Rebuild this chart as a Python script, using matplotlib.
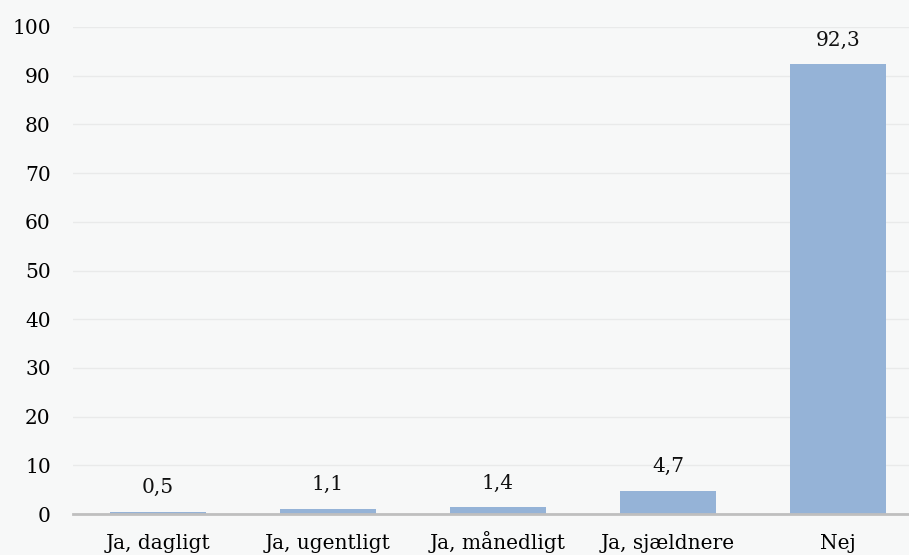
import matplotlib
matplotlib.use("Agg")
import matplotlib.pyplot as plt

categories = ["Ja, dagligt", "Ja, ugentligt", "Ja, månedligt", "Ja, sjældnere", "Nej"]
values = [0.5, 1.1, 1.4, 4.7, 92.3]
labels = ["0,5", "1,1", "1,4", "4,7", "92,3"]
yticks = [0, 10, 20, 30, 40, 50, 60, 70, 80, 90, 100]

bg = "#f7f8f8"
plt.rcParams["font.family"] = ["DejaVu Serif"]
fig = plt.figure(figsize=(9.09, 5.55), dpi=100, facecolor=bg)
ax = fig.add_axes([73/909, 41/555, 1 - 73/909, (514-27)/555])
ax.set_facecolor(bg)

x = list(range(len(categories)))
ax.bar(x, values, width=0.56, color="#95b3d7", zorder=3)
for xi, v, lab in zip(x, values, labels):
    ax.annotate(lab, (xi, v), xytext=(0, 13.5), textcoords="offset points",
                ha="center", va="baseline", fontsize=14.5, color="#111111")

ax.set_ylim(0, 100)
ax.set_xlim(-0.5, 4.5 - 14/170)
ax.set_yticks(yticks)
ax.set_yticklabels([str(t) for t in yticks], fontsize=14.5)
ax.set_xticks(x)
ax.set_xticklabels(categories, fontsize=14.5, va="baseline")
ax.tick_params(axis="y", length=0, pad=16)
ax.tick_params(axis="x", length=0, pad=25)
ax.grid(axis="y", color="#e9eaea", linewidth=1, zorder=0)
for s in ["top", "right", "left"]:
    ax.spines[s].set_visible(False)
ax.spines["bottom"].set_color("#bfbfbf")
ax.spines["bottom"].set_linewidth(2)
ax.spines["bottom"].set_zorder(4)

fig.savefig("out.png", dpi=100, facecolor=bg)
